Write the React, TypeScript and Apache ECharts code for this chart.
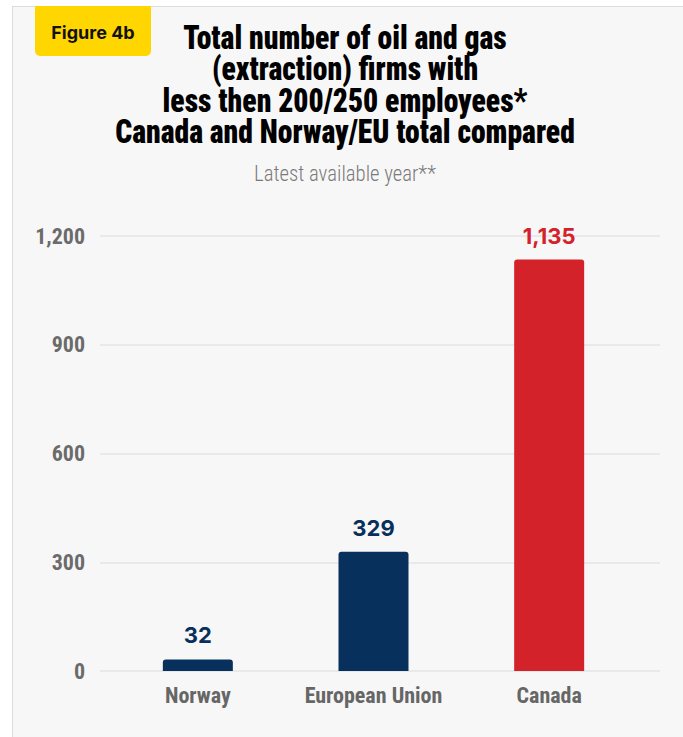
import React, { useEffect, useRef } from "react";
import * as echarts from "echarts";

const categories = ["Norway", "European Union", "Canada"];
const firmCounts = [32, 329, 1135];
const barColors = ["#07305c", "#07305c", "#d3222a"];
const yTicks = [0, 300, 600, 900, 1200];

const titleLines = [
  "Total number of oil and gas",
  "(extraction) firms with",
  "less then 200/250 employees*",
  "Canada and Norway/EU total compared",
];
const subtitle = "Latest available year**";
const badgeText = "Figure 4b";

const CONDENSED = '"Roboto Condensed", "Open Sans Condensed", sans-serif';
const SANS = 'Inter, "Noto Sans", Roboto, sans-serif';

function measure(text: string, font: string): number {
  const c = document.createElement("canvas").getContext("2d");
  if (!c) return text.length * 10;
  c.font = font;
  return c.measureText(text).width;
}

export default function App() {
  const ref = useRef<HTMLDivElement>(null);

  useEffect(() => {
    if (!ref.current) return;
    const chart = echarts.init(ref.current, undefined, { renderer: "svg" });

    const titleWidths = [316, 268, 366, 465];
    const titleFont = `900 33px ${CONDENSED}`;
    let measured = 0;
    let target = 0;
    titleLines.forEach((l, i) => {
      measured += measure(l, titleFont);
      target += titleWidths[i];
    });
    const titleScale = target / measured;
    const subFont = `300 22px ${CONDENSED}`;
    const subScale = 182 / measure(subtitle, subFont);

    const titleBaselines = [49.5, 81, 112.5, 144];

    const option: any = {
      animation: false,
      backgroundColor: "transparent",
      graphic: [
        {
          type: "rect",
          shape: { x: 35, y: 6, width: 116, height: 50, r: [0, 0, 5, 5] },
          style: { fill: "#ffd600" },
          z: 10,
        },
        {
          type: "text",
          x: 93,
          y: 32.5,
          z: 11,
          style: {
            text: badgeText,
            fontSize: 18,
            fontWeight: "bold",
            fontFamily: SANS,
            fill: "#111",
            align: "center",
            verticalAlign: "middle",
            textAlign: "center",
            textVerticalAlign: "middle",
          },
        },
        ...titleLines.map((l, i) => ({
          type: "text",
          x: 345,
          y: titleBaselines[i] - 12,
          scaleX: titleScale,
          z: 11,
          style: {
            text: l,
            fontSize: 33,
            fontWeight: 900,
            fontFamily: CONDENSED,
            fill: "#000",
            align: "center",
            verticalAlign: "middle",
            textAlign: "center",
            textVerticalAlign: "middle",
          },
        })),
        {
          type: "text",
          x: 345,
          y: 173,
          scaleX: subScale,
          z: 11,
          style: {
            text: subtitle,
            fontSize: 22,
            fontWeight: 300,
            fontFamily: CONDENSED,
            fill: "#7a7a7a",
            align: "center",
            verticalAlign: "middle",
            textAlign: "center",
            textVerticalAlign: "middle",
          },
        },
      ],
      grid: [
        { left: 100, right: 23, top: 236, bottom: 66 },
        { left: 110, right: 46, top: 236, bottom: 66 },
      ],
      xAxis: [
        { type: "category", gridIndex: 0, data: categories, show: false },
        {
          type: "category",
          gridIndex: 1,
          data: categories,
          axisLine: { show: false },
          axisTick: { show: false },
          axisLabel: {
            interval: 0,
            margin: 13,
            color: "#666",
            fontSize: 22,
            fontWeight: "bold",
            fontFamily: CONDENSED,
          },
        },
      ],
      yAxis: [
        {
          type: "value",
          gridIndex: 0,
          min: yTicks[0],
          max: yTicks[yTicks.length - 1],
          interval: yTicks[1] - yTicks[0],
          axisLine: { show: false },
          axisTick: { show: false },
          splitLine: { lineStyle: { color: "#e4e4e4", width: 1.5 } },
          axisLabel: {
            margin: 15,
            color: "#6b6b6b",
            fontSize: 22,
            fontWeight: "bold",
            fontFamily: CONDENSED,
            formatter: (v: number) => v.toLocaleString("en-US"),
          },
        },
        {
          type: "value",
          gridIndex: 1,
          min: yTicks[0],
          max: yTicks[yTicks.length - 1],
          interval: yTicks[1] - yTicks[0],
          show: false,
          splitLine: { show: false },
        },
      ],
      series: [
        {
          type: "bar",
          xAxisIndex: 1,
          yAxisIndex: 1,
          barWidth: 70,
          data: firmCounts.map((v, i) => ({
            value: v,
            itemStyle: { color: barColors[i], borderRadius: [3, 3, 0, 0] },
            label: { color: barColors[i] },
          })),
          label: {
            show: true,
            position: "top",
            distance: 13,
            fontSize: 22,
            fontWeight: "bold",
            fontFamily: SANS,
            formatter: (p: any) => Number(p.value).toLocaleString("en-US"),
          },
        },
      ],
    };

    chart.setOption(option);
    return () => chart.dispose();
  }, []);

  return (
    <div
      style={{
        position: "absolute",
        left: 0,
        top: 0,
        width: 683,
        height: 737,
        background: "#fff",
        overflow: "hidden",
      }}
    >
      <div
        style={{
          position: "absolute",
          left: 12,
          top: 6,
          right: 0,
          bottom: 0,
          background: "#f7f7f7",
          borderLeft: "1.5px solid #dcdcdc",
          borderTop: "1.5px solid #dcdcdc",
        }}
      />
      <div
        ref={ref}
        style={{ position: "absolute", left: 0, top: 0, width: 683, height: 737 }}
      />
    </div>
  );
}
